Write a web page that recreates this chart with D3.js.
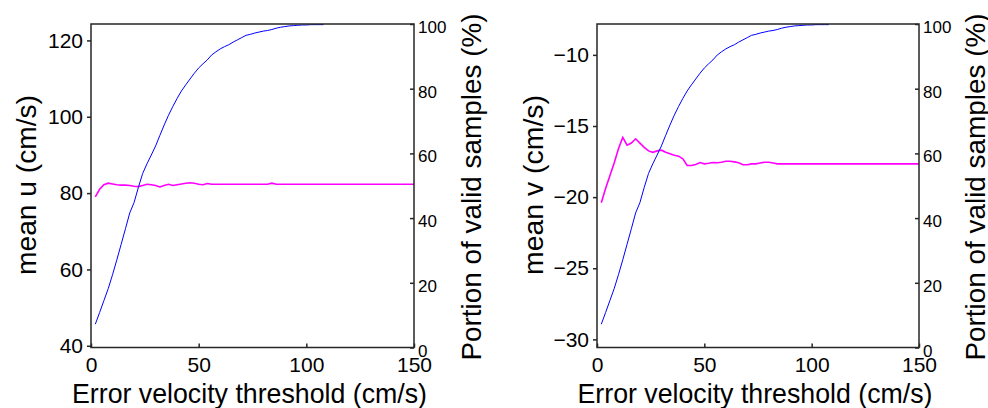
<!DOCTYPE html>
<html>
<head>
<meta charset="utf-8">
<script src="https://cdn.jsdelivr.net/npm/d3@7/dist/d3.min.js"></script>
<style>
body { margin: 0; background: #fff; }
text { font-family: "Liberation Sans", Arial, sans-serif; fill: #000; }
</style>
</head>
<body>
<div id="canvas"></div>
<script>
const canvas = d3.select("#canvas");

// error velocity threshold (cm/s)
const thresholds = [2,4,6,8,10,12,14,16,18,20,22,24,26,28,30,32,34,36,38,40,42,44,46,48,50,52,54,56,58,60,
    62,64,66,68,70,72,74,76,78,80,82,84,86,88,90,92,94,96,98,100,102,104,106,108,120,130,140,150];

// portion of valid samples (%), stops at 108
const validPct = [7.2,10.8,14.5,18.2,22.5,27.1,31.9,36.7,41.6,44.8,49.5,53.8,56.8,59.5,62.3,65.6,68.8,71.8,74.5,77,
    79.3,81.2,83,84.8,86.4,87.7,88.9,90.4,91.4,92.3,93.0,93.6,94.4,95.1,95.8,96.5,96.8,97.2,97.5,97.8,
    98.0,98.3,98.7,99.0,99.2,99.4,99.5,99.6,99.7,99.7,99.8,99.8,99.8,99.8];

// mean u (cm/s)
const meanU = [79.0,81.0,82.2,82.6,82.4,82.2,82.1,82.1,82.0,81.8,81.7,82.0,82.3,82.2,82.0,81.6,82.0,82.3,82.0,82.2,
    82.4,82.6,82.7,82.6,82.3,82.2,82.5,82.3,82.3,82.3,82.3,82.3,82.3,82.3,82.3,82.3,82.3,82.3,82.3,82.3,
    82.3,82.6,82.3,82.3,82.3,82.3,82.3,82.3,82.3,82.3,82.3,82.3,82.3,82.3,82.3,82.3,82.3,82.3];

// mean v (cm/s)
const meanV = [-20.4,-19.4,-18.5,-17.6,-16.6,-15.8,-16.35,-16.2,-15.9,-16.2,-16.5,-16.75,-16.85,-16.75,-16.7,-16.85,-16.95,-17.05,-17.12,-17.3,
    -17.78,-17.78,-17.7,-17.57,-17.66,-17.62,-17.57,-17.58,-17.55,-17.48,-17.48,-17.52,-17.58,-17.72,-17.72,-17.66,-17.66,-17.6,-17.55,-17.55,
    -17.6,-17.66,-17.66,-17.66,-17.66,-17.66,-17.66,-17.66,-17.66,-17.66,-17.66,-17.66,-17.66,-17.66,-17.66,-17.66,-17.66,-17.66];

const xTicks = [0, 50, 100, 150];
const pctTicks = [0, 20, 40, 60, 80, 100];
const uTicks = [40, 60, 80, 100, 120];
const vTicks = [-30, -25, -20, -15, -10];

const width = 988, height = 408;
const svg = canvas.append("svg").attr("width", width).attr("height", height);

let panel = (left, right, yDomain, yTicks, vals, yLabel, labelX, rLabelX) => {
    const top = 24, bottom = 347.5;
    const x = d3.scaleLinear().domain([0, 150]).range([left, right]);
    const y = d3.scaleLinear().domain(yDomain).range([bottom, top]);
    const y2 = d3.scaleLinear().domain([0, 100]).range([bottom, top]);

    const g = svg.append("g");

    const mag = thresholds.map((t, i) => [t, vals[i]]);
    const blu = validPct.map((p, i) => [thresholds[i], p]);

    g.append("path")
        .datum(mag)
        .attr("fill", "none")
        .attr("stroke", "#ff00ff")
        .attr("stroke-width", 1.6)
        .attr("d", d3.line().x(d => x(d[0])).y(d => y(d[1])));

    g.append("path")
        .datum(blu)
        .attr("fill", "none")
        .attr("stroke", "#0000ff")
        .attr("stroke-width", 1)
        .attr("d", d3.line().x(d => x(d[0])).y(d => y2(d[1])));

    // frame
    g.append("rect")
        .attr("x", left).attr("y", top)
        .attr("width", right - left).attr("height", bottom - top)
        .attr("fill", "none").attr("stroke", "#262626").attr("stroke-width", 1.5);

    const ax = g.append("g")
        .attr("transform", `translate(0,${bottom})`)
        .call(d3.axisBottom(x).tickValues(xTicks).tickSizeInner(-4).tickSizeOuter(0).tickPadding(10));
    const ay = g.append("g")
        .attr("transform", `translate(${left},0)`)
        .call(d3.axisLeft(y).tickValues(yTicks).tickSizeInner(4).tickSizeOuter(0).tickPadding(4));
    const ar = g.append("g")
        .attr("transform", `translate(${right},0)`)
        .call(d3.axisRight(y2).tickValues(pctTicks).tickSizeInner(-4).tickSizeOuter(0).tickPadding(4));

    [ax, ay, ar].forEach(a => {
        a.select(".domain").remove();
        a.selectAll(".tick line").attr("stroke", "#262626").attr("stroke-width", 1.5);
        a.selectAll("text").attr("fill", "#000").attr("font-family", null);
    });
    ax.selectAll("text").attr("font-size", 21);
    ay.selectAll("text").attr("font-size", 21);
    ar.selectAll("text").attr("font-size", 17).attr("dy", "0.5em");

    g.append("text")
        .attr("x", (left + right) / 2 - 3).attr("y", 403)
        .attr("text-anchor", "middle").attr("font-size", 28)
        .attr("textLength", 355).attr("lengthAdjust", "spacingAndGlyphs")
        .text("Error velocity threshold (cm/s)");

    g.append("text")
        .attr("transform", `translate(${labelX},185) rotate(-90)`)
        .attr("text-anchor", "middle").attr("font-size", 28)
        .attr("textLength", 180).attr("lengthAdjust", "spacingAndGlyphs")
        .text(yLabel);

    g.append("text")
        .attr("transform", `translate(${rLabelX},187) rotate(-90)`)
        .attr("text-anchor", "middle").attr("font-size", 28)
        .attr("textLength", 347).attr("lengthAdjust", "spacingAndGlyphs")
        .text("Portion of valid samples (%)");
};

panel(91, 414, [39.55, 124.3], uTicks, meanU, "mean u (cm/s)", 36, 481);
panel(597, 919, [-30.57, -7.83], vTicks, meanV, "mean v (cm/s)", 543, 985);
</script>
</body>
</html>
